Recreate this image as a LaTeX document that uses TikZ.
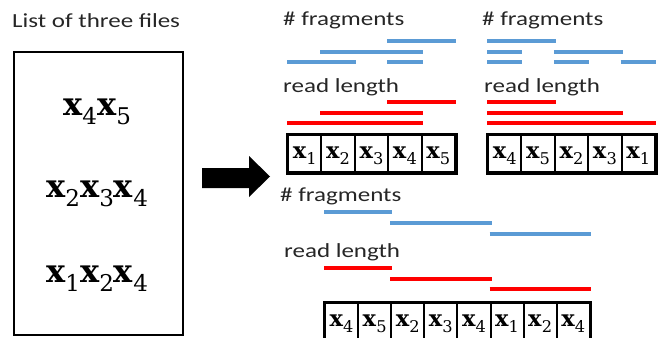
\documentclass[tikz,border=0pt]{standalone}
\usepackage{fontspec}
\setmainfont{Carlito}[FakeStretch=1.25]
\newfontfamily\serf{DejaVu Serif}
\definecolor{fragblue}{HTML}{5B9BD5}
\definecolor{readred}{HTML}{FF0000}
\definecolor{txt}{HTML}{262626}
\newcommand{\xs}[1]{{\serf\textbf{x}\raisebox{-0.3em}{\scalebox{0.72}{#1}}}}
\begin{document}
\begin{tikzpicture}[x=1pt,y=-1pt,
 lbl/.style={anchor=base west,inner sep=0pt,font=\fontsize{20}{20}\selectfont,text=txt},
 bigmath/.style={anchor=base,inner sep=0pt,font=\fontsize{32}{32}\selectfont},
 cell/.style={draw,line width=2pt,minimum width=33.4pt,minimum height=37pt,inner sep=0pt,text height=13pt,text depth=4pt,font=\fontsize{22.5}{22.5}\selectfont},
 cellb/.style={cell,minimum width=33.1pt},
 outer/.style={draw,line width=3pt},
 fb/.style={fragblue,line width=4pt},
 rr/.style={readred,line width=4.5pt}]
\useasboundingbox (0,0) rectangle (663,337);

% left panel
\node[lbl] (title) at (12,28) {List of three files};
\node[draw,line width=2.5pt,minimum width=169pt,minimum height=283pt,inner sep=0pt] (list) at (98.5,193.5) {};
\node[bigmath] (f1) at (97,115) {\xs4\xs5};
\node[bigmath] (f2) at (97,197) {\xs2\xs3\xs4};
\node[bigmath] (f3) at (97,282) {\xs1\xs2\xs4};

% arrow
\fill (202,168) -- (249,168) -- (249,156) -- (270,176.5) -- (249,197) -- (249,188) -- (202,188) -- cycle;

% top-left panel
\node[lbl] (tlf) at (283,26) {\# fragments};
\node[lbl] (tlr) at (283,92) {read length};
\node[cell] (a1) at (304.7,153.5) {\xs1};
\node[cell] (a2) at (338.1,153.5) {\xs2};
\node[cell] (a3) at (371.5,153.5) {\xs3};
\node[cell] (a4) at (404.9,153.5) {\xs4};
\node[cell] (a5) at (438.3,153.5) {\xs5};
\draw[outer] (a1.north west) rectangle (a5.south east);
\draw[fb] (a4.west |- 0,41) -- (a5.east |- 0,41);
\draw[fb] (a2.west |- 0,52) -- (a4.east |- 0,52);
\draw[fb] (a1.west |- 0,62) -- (a2.east |- 0,62);
\draw[fb] (a4.west |- 0,62) -- (a4.east |- 0,62);
\draw[rr] (a4.west |- 0,102) -- (a5.east |- 0,102);
\draw[rr] (a2.west |- 0,113) -- (a4.east |- 0,113);
\draw[rr] (a1.west |- 0,123) -- (a4.east |- 0,123);

% top-right panel
\node[lbl] (trf) at (482,26) {\# fragments};
\node[lbl] (trr) at (484,92) {read length};
\node[cell] (b1) at (504.7,153.5) {\xs4};
\node[cell] (b2) at (538.1,153.5) {\xs5};
\node[cell] (b3) at (571.5,153.5) {\xs2};
\node[cell] (b4) at (604.9,153.5) {\xs3};
\node[cell] (b5) at (638.3,153.5) {\xs1};
\draw[outer] (b1.north west) rectangle (b5.south east);
\draw[fb] (b1.west |- 0,41) -- (b2.east |- 0,41);
\draw[fb] (b1.west |- 0,52) -- (b1.east |- 0,52);
\draw[fb] (b3.west |- 0,52) -- (b4.east |- 0,52);
\draw[fb] (b1.west |- 0,62) -- (b1.east |- 0,62);
\draw[fb] (b3.west |- 0,62) -- (b3.east |- 0,62);
\draw[fb] (b5.west |- 0,62) -- (b5.east |- 0,62);
\draw[rr] (b1.west |- 0,102) -- (b2.east |- 0,102);
\draw[rr] (b1.west |- 0,113) -- (b4.east |- 0,113);
\draw[rr] (b1.west |- 0,123) -- (b5.east |- 0,123);

% bottom panel
\node[lbl] (bf) at (280,201) {\# fragments};
\node[lbl] (br) at (284,257) {read length};
\node[cellb] (c1) at (341.55,321.5) {\xs4};
\node[cellb] (c2) at (374.65,321.5) {\xs5};
\node[cellb] (c3) at (407.75,321.5) {\xs2};
\node[cellb] (c4) at (440.85,321.5) {\xs3};
\node[cellb] (c5) at (473.95,321.5) {\xs4};
\node[cellb] (c6) at (507.05,321.5) {\xs1};
\node[cellb] (c7) at (540.15,321.5) {\xs2};
\node[cellb] (c8) at (573.25,321.5) {\xs4};
\draw[outer] (c1.north west) rectangle (c8.south east);
\draw[fb] (c1.west |- 0,212) -- (c2.east |- 0,212);
\draw[fb] (c3.west |- 0,223) -- (c5.east |- 0,223);
\draw[fb] (c6.west |- 0,234) -- (c8.east |- 0,234);
\draw[rr] (c1.west |- 0,268) -- (c2.east |- 0,268);
\draw[rr] (c3.west |- 0,279) -- (c5.east |- 0,279);
\draw[rr] (c6.west |- 0,289) -- (c8.east |- 0,289);
\end{tikzpicture}
\end{document}
